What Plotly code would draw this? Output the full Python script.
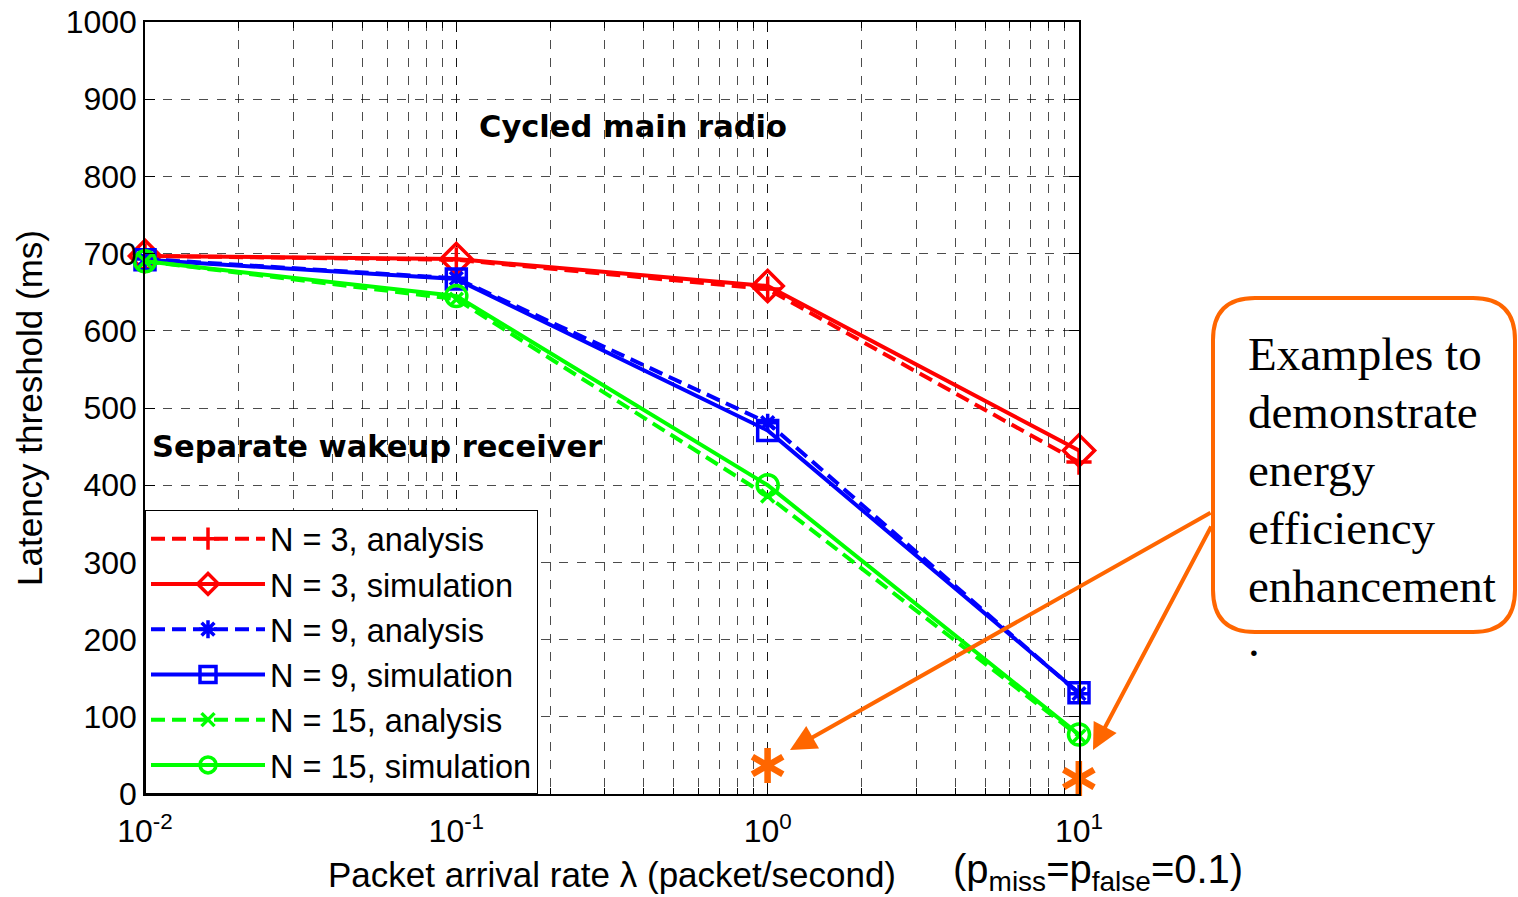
import plotly.graph_objects as go

# ---------------- data ----------------
arrival_rate = [0.01, 0.1, 1, 10]
n3_analysis = [697, 692, 654, 430]
n3_simulation = [697, 693, 658, 445]
n9_analysis = [693, 668, 481, 130]
n9_simulation = [692, 667, 471, 131]
n15_analysis = [690, 641, 386, 75]
n15_simulation = [690, 645, 400, 77]
example_x = [1, 10]
example_y = [33, 15]

x_tickvals = [0.01, 0.1, 1, 10]
x_ticktext = ["10<sup>-2</sup>", "10<sup>-1</sup>", "10<sup>0</sup>", "10<sup>1</sup>"]

series_names = ["N = 3, analysis", "N = 3, simulation", "N = 9, analysis",
                "N = 9, simulation", "N = 15, analysis", "N = 15, simulation"]

callout_lines = ["Examples to", "demonstrate", "energy", "efficiency", "enhancement", "."]

# ---------------- layout geometry (page coords; body margin removed below) ----------------
W, H = 1518, 897
L, T, PW, PH = 145, 22, 934, 772


def px(x):
    return (x - L) / PW


def py(y):
    return (T + PH - y) / PH


SANS = "Liberation Sans, Arial, sans-serif"
SERIF = "Liberation Serif, Times New Roman, serif"
ORANGE = "#FF6600"

fig = go.Figure()

styles = [
    (n3_analysis, "#FF0000", "14px,7px", "cross-thin-open", 18),
    (n3_simulation, "#FF0000", "solid", "diamond-open", 24),
    (n9_analysis, "#0000FF", "14px,7px", "asterisk-open", 15),
    (n9_simulation, "#0000FF", "solid", "square-open", 20),
    (n15_analysis, "#00FF00", "14px,7px", "x-thin-open", 13),
    (n15_simulation, "#00FF00", "solid", "circle-open", 21),
]

for name, (ys, color, dash, sym, size) in zip(series_names, styles):
    fig.add_trace(go.Scatter(
        x=arrival_rate, y=ys, name=name, mode="lines+markers", cliponaxis=False,
        line=dict(color=color, width=4, dash=dash),
        marker=dict(symbol=sym, size=size, color=color, line=dict(color=color, width=3.5)),
    ))

fig.add_trace(go.Scatter(
    x=example_x, y=example_y, mode="text", text=["∗", "∗"], showlegend=False,
    cliponaxis=False, textposition="middle center",
    textfont=dict(family="DejaVu Sans, sans-serif", size=56, color=ORANGE, weight="bold"),
))

grid_color = "rgba(0,0,0,0.7)"

fig.update_layout(
    width=W, height=H,
    margin=dict(l=L, r=W - L - PW, t=T, b=H - T - PH, autoexpand=False),
    paper_bgcolor="white", plot_bgcolor="white",
    font=dict(family=SANS, size=32, color="black"),
    showlegend=True,
    legend=dict(
        x=0, y=0, xanchor="left", yanchor="bottom",
        bgcolor="white", bordercolor="black", borderwidth=1,
        font=dict(family=SANS, size=32.5, color="black"),
        itemwidth=114, tracegroupgap=0,
    ),
    xaxis=dict(
        type="log", range=[-2, 1], automargin=False, ticklabeloverflow="allow",
        tickmode="array", tickvals=x_tickvals, ticktext=x_ticktext,
        ticks="inside", ticklen=10, tickcolor="black", ticklabelstandoff=8,
        showline=True, linecolor="black", linewidth=1.5, mirror="allticks",
        showgrid=True, gridcolor=grid_color, griddash="dash", gridwidth=1,
        minor=dict(dtick="D1", ticks="inside", ticklen=6, tickcolor="black",
                   showgrid=True, gridcolor=grid_color, griddash="dash", gridwidth=1),
        tickfont=dict(family=SANS, size=32),
        title=dict(text="Packet arrival rate λ (packet/second)", standoff=14,
                   font=dict(family=SANS, size=35)),
        zeroline=False,
    ),
    yaxis=dict(
        range=[0, 1000], dtick=100, tick0=0, automargin=False, ticklabeloverflow="allow",
        ticks="inside", ticklen=10, tickcolor="black",
        showline=True, linecolor="black", linewidth=1.5, mirror="allticks",
        showgrid=True, gridcolor=grid_color, griddash="dash", gridwidth=1,
        tickfont=dict(family=SANS, size=32),
        title=dict(text="Latency threshold (ms)", standoff=12,
                   font=dict(family=SANS, size=35)),
        zeroline=False,
    ),
)

# rounded callout box
x0, x1 = px(1213), px(1515)
y0, y1 = py(632), py(298)
rx, ry = 42 / PW, 42 / PH
path = (f"M {x0 + rx},{y1} L {x1 - rx},{y1} Q {x1},{y1} {x1},{y1 - ry} "
        f"L {x1},{y0 + ry} Q {x1},{y0} {x1 - rx},{y0} "
        f"L {x0 + rx},{y0} Q {x0},{y0} {x0},{y0 + ry} "
        f"L {x0},{y1 - ry} Q {x0},{y1} {x0 + rx},{y1} Z")
fig.add_shape(type="path", path=path, xref="paper", yref="paper",
              line=dict(color=ORANGE, width=4), fillcolor="white", layer="above")

line_y = [354, 412, 470, 528, 586, 640]
for txt, yy in zip(callout_lines, line_y):
    fig.add_annotation(xref="paper", yref="paper", showarrow=False, text=txt,
                       x=px(1246), y=py(yy), xanchor="left", yanchor="middle",
                       font=dict(family=SERIF, size=47, color="black"))

annotations = [
    dict(text="<b>Cycled main radio</b>", x=px(633), y=py(126), xanchor="center", yanchor="middle",
         font=dict(family="DejaVu Sans, sans-serif", size=30.5, color="black")),
    dict(text="<b>Separate wakeup receiver</b>", x=px(150), y=py(447), xanchor="left", yanchor="middle",
         font=dict(family="DejaVu Sans, sans-serif", size=30.5, color="black")),
    dict(text="(p<sub>miss</sub>=p<sub>false</sub>=0.1)", x=px(1098), y=py(872),
         xanchor="center", yanchor="middle", font=dict(family=SANS, size=40, color="black")),
]
for a in annotations:
    fig.add_annotation(xref="paper", yref="paper", showarrow=False, **a)

# arrows
for tip, tail in [((790, 750), (1212, 512)), ((1093, 750), (1212, 525))]:
    fig.add_annotation(xref="paper", yref="paper", x=px(tip[0]), y=py(tip[1]),
                       ax=tail[0] - tip[0], ay=tail[1] - tip[1], text="",
                       showarrow=True, arrowhead=2, arrowsize=1.3, arrowwidth=4,
                       arrowcolor=ORANGE, standoff=0)

fig.write_html(
    "out.html",
    config={"displayModeBar": False},
    post_script="document.documentElement.style.margin='0';document.body.style.margin='0';"
                "document.body.style.overflow='hidden';",
)
